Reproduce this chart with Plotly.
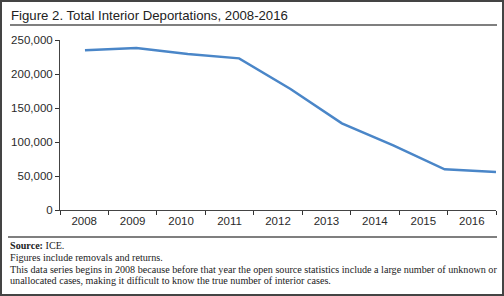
import plotly.graph_objects as go

years = [2008, 2009, 2010, 2011, 2012, 2013, 2014, 2015, 2016]
year_labels = [str(y) for y in years]
deportations = [234800, 238200, 229400, 223000, 178000, 127500, 95000, 59800, 55900]

title_text = "Figure 2. Total Interior Deportations, 2008-2016"
notes = [
    "<b>Source:</b> ICE.",
    "Figures include removals and returns.",
    "This data series begins in 2008 because before that year the open source statistics include a large number of unknown or",
    "unallocated cases, making it difficult to know the true number of interior cases.",
]

W, H = 504, 296
L, R, T, B = 60, 8, 40, 86
pw, ph = W - L - R, H - T - B

def px(x):
    return (x - L) / pw

def py(y):
    return (H - B - y) / ph

fig = go.Figure()
# invisible trace to set up the category axis
fig.add_trace(go.Scatter(x=year_labels, y=deportations, mode="lines",
                         line=dict(width=0), opacity=0, hoverinfo="skip",
                         showlegend=False, xaxis="x", yaxis="y"))
fig.add_trace(go.Scatter(x=years, y=deportations, mode="lines",
                         line=dict(color="#4a86c8", width=2.5),
                         showlegend=False, xaxis="x2", yaxis="y"))

tickfont = dict(family="Liberation Sans, Arial, sans-serif", size=11.5, color="#2a2a2a")
fig.update_layout(
    width=W, height=H,
    margin=dict(l=L, r=R, t=T, b=B),
    paper_bgcolor="white", plot_bgcolor="white",
    xaxis=dict(type="category", categoryorder="array", categoryarray=year_labels,
               range=[-0.5, 8.5], tickson="boundaries", ticks="outside", ticklen=4,
               tickcolor="#333", showline=True, linecolor="#444", linewidth=1,
               showgrid=False, zeroline=False, tickfont=tickfont, fixedrange=True),
    xaxis2=dict(type="linear", overlaying="x", range=[years[0] - 0.486, years[-1]],
                visible=False, fixedrange=True),
    yaxis=dict(range=[0, 250000], dtick=50000, tickformat=",", ticks="outside",
               ticklen=4, tickcolor="#333", showline=True, linecolor="#444",
               linewidth=1, showgrid=False, zeroline=False, tickfont=tickfont,
               fixedrange=True),
    font=dict(family="Liberation Sans, Arial, sans-serif"),
)

shapes = [
    dict(type="rect", xref="paper", yref="paper", x0=px(1), x1=px(503), y0=py(1), y1=py(295),
         line=dict(color="#444", width=2)),
    dict(type="line", xref="paper", yref="paper", x0=px(10), x1=px(497), y0=py(25), y1=py(25),
         line=dict(color="#555", width=1.5)),
    dict(type="line", xref="paper", yref="paper", x0=px(8), x1=px(497), y0=py(237), y1=py(237),
         line=dict(color="#555", width=1.5)),
]
fig.update_layout(shapes=shapes)

annotations = [
    dict(text=title_text, xref="paper", yref="paper", x=px(9), y=py(15), xanchor="left",
         yanchor="middle", showarrow=False,
         font=dict(family="Liberation Sans, Arial, sans-serif", size=13.2, color="#222")),
]
note_y = [245, 257, 269, 280]
for t, yy in zip(notes, note_y):
    annotations.append(dict(text=t, xref="paper", yref="paper", x=px(8), y=py(yy),
                            xanchor="left", yanchor="middle", showarrow=False,
                            font=dict(family="Liberation Serif, Times New Roman, serif",
                                      size=10.15, color="#222")))
fig.update_layout(annotations=annotations)

fig.write_html("out.html", config={"displayModeBar": False})
